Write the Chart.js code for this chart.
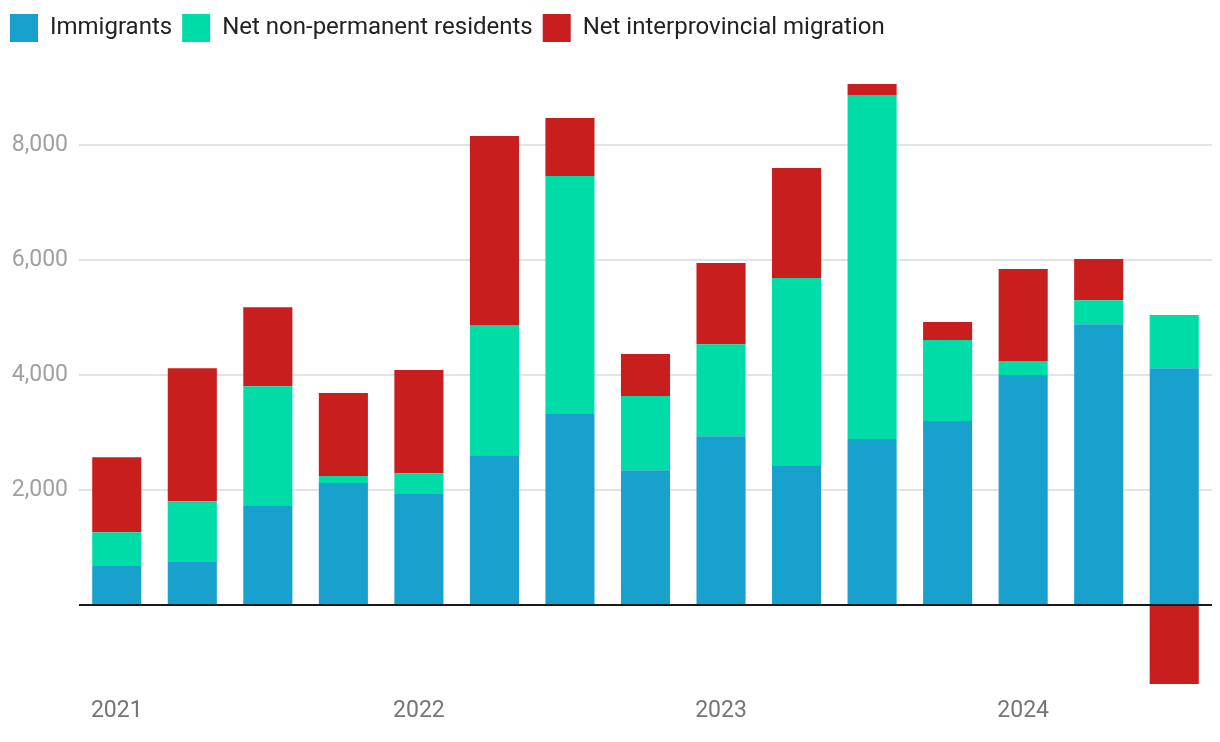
<!DOCTYPE html>
<html>
<head>
<meta charset="utf-8">
<script src="https://cdn.jsdelivr.net/npm/chart.js@4/dist/chart.umd.min.js"></script>
<style>
  html, body { margin: 0; padding: 0; background: #fff; }
  #wrap { width: 1220px; height: 742px; position: relative; }
</style>
</head>
<body>
<div id="wrap"><canvas id="c" width="1220" height="742"></canvas></div>
<script>
const categories = ["2021 Q1","2021 Q2","2021 Q3","2021 Q4","2022 Q1","2022 Q2","2022 Q3","2022 Q4","2023 Q1","2023 Q2","2023 Q3","2023 Q4","2024 Q1","2024 Q2","2024 Q3"];
const immigrants = [690, 760, 1720, 2120, 1945, 2605, 3320, 2345, 2935, 2415, 2885, 3200, 4000, 4885, 4120];
const nonPermanent = [575, 1044, 2086, 122, 348, 2264, 4144, 1289, 1602, 3273, 5989, 1410, 244, 418, 923];
const interprovincial = [1305, 2316, 1375, 1445, 1793, 3290, 1009, 731, 1410, 1915, 191, 314, 1602, 714, -1375];
const yTickValues = [2000, 4000, 6000, 8000];
const seriesNames = ["Immigrants", "Net non-permanent residents", "Net interprovincial migration"];
const seriesColors = ["#19a1cd", "#00dca7", "#c81e1e"];

const zeroLine = {
  id: 'zeroLine',
  afterDatasetsDraw(chart) {
    const y = chart.scales.y.getPixelForValue(0);
    const ctx = chart.ctx, a = chart.chartArea;
    ctx.save();
    ctx.strokeStyle = '#1a1a1a';
    ctx.lineWidth = 2;
    ctx.beginPath();
    ctx.moveTo(a.left, y);
    ctx.lineTo(a.right, y);
    ctx.stroke();
    ctx.restore();
  }
};

new Chart(document.getElementById('c'), {
  type: 'bar',
  data: {
    labels: categories,
    datasets: [
      { label: seriesNames[0], data: immigrants, backgroundColor: seriesColors[0] },
      { label: seriesNames[1], data: nonPermanent, backgroundColor: seriesColors[1] },
      { label: seriesNames[2], data: interprovincial, backgroundColor: seriesColors[2] }
    ]
  },
  options: {
    responsive: false,
    animation: false,
    layout: { padding: { top: 4, left: 0, right: 8, bottom: 5 } },
    datasets: { bar: { barPercentage: 0.65, categoryPercentage: 1.0, borderWidth: 0 } },
    plugins: {
      legend: {
        position: 'top', align: 'start',
        labels: {
          boxWidth: 28, boxHeight: 28, padding: 10,
          color: '#222', font: { family: 'Roboto', size: 24 }
        }
      },
      tooltip: { enabled: false }
    },
    scales: {
      x: {
        stacked: true,
        grid: { display: false, drawTicks: false },
        border: { display: false },
        ticks: {
          autoSkip: false, maxRotation: 0, padding: 12,
          color: '#757575', font: { family: 'Roboto', size: 23 },
          callback: function(v, i) { const l = categories[i]; return l.endsWith('Q1') ? l.slice(0, 4) : ''; }
        }
      },
      y: {
        stacked: true,
        min: -1400, max: 9620,
        afterBuildTicks: axis => { axis.ticks = yTickValues.map(v => ({ value: v })); },
        afterFit: scale => { scale.width = 79; scale.paddingTop = 0; scale.paddingBottom = 0; },
        grid: {
          drawTicks: false,
          color: '#e3e3e3',
          lineWidth: 2
        },
        border: { display: false },
        ticks: {
          padding: 11,
          color: '#a0a0a0', font: { family: 'Roboto', size: 23 },
          callback: v => v.toLocaleString('en-US')
        }
      }
    }
  },
  plugins: [zeroLine]
});
</script>
</body>
</html>
